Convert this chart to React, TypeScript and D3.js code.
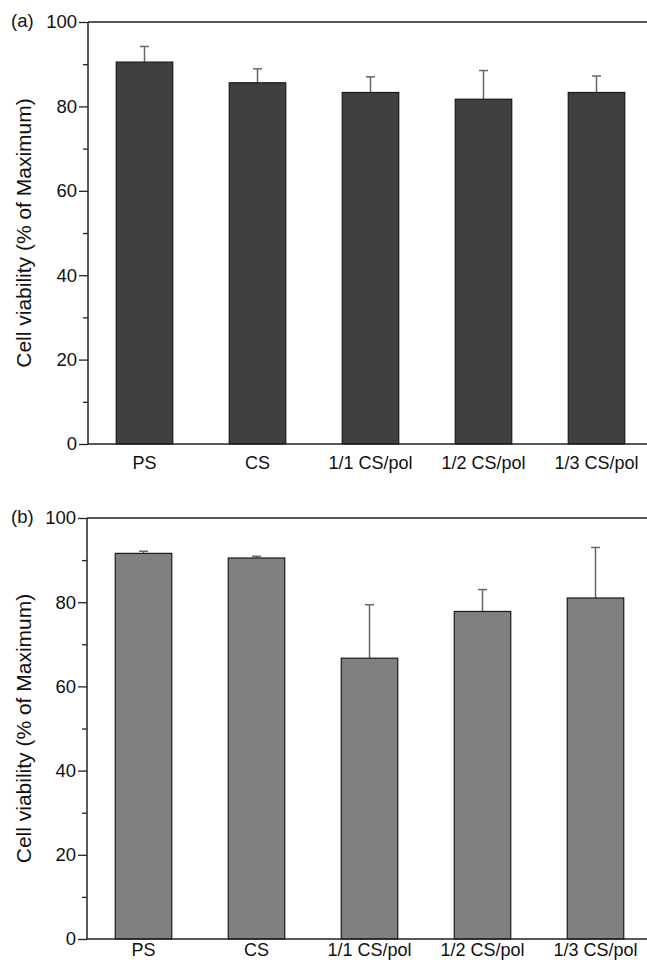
import React, { useEffect, useRef } from 'react';
import * as d3 from 'd3';

const CATEGORIES = ["PS", "CS", "1/1 CS/pol", "1/2 CS/pol", "1/3 CS/pol"];

// panel (a)
const VALUES_A = [90.5, 85.6, 83.3, 81.7, 83.3];
const ERRORS_A = [3.7, 3.3, 3.7, 6.8, 3.9];

// panel (b)
const VALUES_B = [91.6, 90.5, 66.7, 77.8, 81.0];
const ERRORS_B = [0.5, 0.4, 12.7, 5.2, 12.0];

const Y_TICKS = [0, 20, 40, 60, 80, 100];
const Y_MINOR_TICKS = [10, 30, 50, 70, 90];

const FONT = "'Liberation Sans', Arial, Helvetica, sans-serif";

function App() {
    const svgRef = useRef<SVGSVGElement>(null);
    const width = 647;
    const height = 965;

    useEffect(() => {
        document.body.style.margin = "0";
        const svg = d3.select(svgRef.current);
        svg.selectAll("*").remove();

        const panels = [
            { tag: "(a)", values: VALUES_A, errors: ERRORS_A, fill: "#404040", top: 22, bottom: 444, left: 88, labelPad: 12 },
            { tag: "(b)", values: VALUES_B, errors: ERRORS_B, fill: "#808080", top: 518, bottom: 939, left: 87, labelPad: 4 },
        ];

        panels.forEach(p => {
            const g = svg.append("g");

            const x = d3.scaleBand()
                .domain(CATEGORIES)
                .range([p.left, p.left + 565])
                .paddingInner(0.5)
                .paddingOuter(0.25);

            const y = d3.scaleLinear()
                .domain([0, 100])
                .range([p.bottom, p.top]);

            // top frame line
            g.append("line")
                .attr("x1", p.left).attr("x2", width)
                .attr("y1", p.top).attr("y2", p.top)
                .attr("stroke", "#222").attr("stroke-width", 1.5);

            // error bars (drawn behind bars)
            const err = g.append("g");
            p.values.forEach((v, i) => {
                const cx = x(CATEGORIES[i])! + x.bandwidth() / 2;
                const yTop = y(v + p.errors[i]);
                err.append("line")
                    .attr("x1", cx).attr("x2", cx)
                    .attr("y1", y(v)).attr("y2", yTop)
                    .attr("stroke", "#666").attr("stroke-width", 1.5);
                err.append("line")
                    .attr("x1", cx - 4.5).attr("x2", cx + 4.5)
                    .attr("y1", yTop).attr("y2", yTop)
                    .attr("stroke", "#666").attr("stroke-width", 1.5);
            });

            g.selectAll("rect.bar")
                .data(p.values)
                .enter()
                .append("rect")
                .attr("class", "bar")
                .attr("x", (d, i) => x(CATEGORIES[i])!)
                .attr("width", x.bandwidth())
                .attr("y", d => y(d))
                .attr("height", d => y(0) - y(d))
                .attr("fill", p.fill)
                .attr("stroke", "#1a1a1a")
                .attr("stroke-width", 1.2);

            // y axis
            const yAxis = d3.axisLeft(y).tickValues(Y_TICKS).tickSize(9).tickPadding(2);
            const ya = g.append("g")
                .attr("transform", `translate(${p.left},0)`)
                .call(yAxis);
            ya.select(".domain").remove();
            ya.selectAll("line").attr("stroke", "#222").attr("stroke-width", 1.3);
            ya.selectAll("text")
                .attr("fill", "#111")
                .style("font-family", FONT)
                .style("font-size", "18.5px");

            g.append("g")
                .attr("transform", `translate(${p.left},0)`)
                .call(d3.axisLeft(y).tickValues(Y_MINOR_TICKS).tickSize(5).tickFormat(() => ""))
                .call(s => s.select(".domain").remove())
                .selectAll("line").attr("stroke", "#222").attr("stroke-width", 1.3);

            g.append("line")
                .attr("x1", p.left).attr("x2", p.left)
                .attr("y1", p.top).attr("y2", p.bottom)
                .attr("stroke", "#222").attr("stroke-width", 1.5);

            // x axis
            const xa = g.append("g")
                .attr("transform", `translate(0,${p.bottom})`)
                .call(d3.axisBottom(x).tickSize(0).tickPadding(p.labelPad));
            xa.select(".domain").remove();
            xa.selectAll("text")
                .attr("fill", "#111")
                .style("font-family", FONT)
                .style("font-size", "18px");

            g.append("line")
                .attr("x1", p.left).attr("x2", width)
                .attr("y1", p.bottom).attr("y2", p.bottom)
                .attr("stroke", "#222").attr("stroke-width", 1.5);

            // panel tag
            g.append("text")
                .attr("x", 11)
                .attr("y", p.top + 5)
                .attr("fill", "#111")
                .style("font-family", FONT)
                .style("font-size", "18.5px")
                .text(p.tag);

            // y label
            g.append("text")
                .attr("transform", `translate(31,${(p.top + p.bottom) / 2}) rotate(-90)`)
                .attr("text-anchor", "middle")
                .attr("fill", "#111")
                .style("font-family", FONT)
                .style("font-size", "21px")
                .text("Cell viability (% of Maximum)");
        });

        svg.style("background-color", "#fff");
    }, []);

    return (
        <svg
            ref={svgRef}
            width={width}
            height={height}
            style={{ display: "block" }}
        />
    );
}

export default App;
